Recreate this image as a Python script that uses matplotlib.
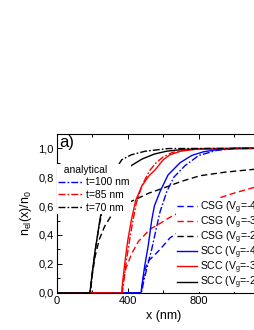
import numpy as np
import matplotlib
matplotlib.use("Agg")
import matplotlib.pyplot as plt
from matplotlib.ticker import MultipleLocator, FuncFormatter

plt.rcParams['font.family'] = ['Liberation Sans', 'DejaVu Sans']
plt.rcParams['mathtext.default'] = 'regular'

# SCC (solid)
scc_black_x = [0, 185, 190, 200, 215, 230, 245, 260, 290, 330, 380, 420, 480, 550, 620, 700, 800, 1200]
scc_black_y = [0, 0, 0.03, 0.14, 0.28, 0.40, 0.52, 0.60, 0.70, 0.78, 0.84, 0.88, 0.925, 0.96, 0.98, 0.99, 0.997, 1.0]
scc_red_x = [0, 366, 372, 385, 400, 420, 445, 480, 520, 554, 600, 638, 700, 800, 1200]
scc_red_y = [0, 0, 0.08, 0.22, 0.36, 0.50, 0.64, 0.74, 0.81, 0.85, 0.92, 0.955, 0.98, 0.995, 1.0]
scc_blue_x = [0, 475, 480, 495, 516, 535, 550, 582, 627, 695, 760, 825, 900, 1000, 1200]
scc_blue_y = [0, 0, 0.05, 0.18, 0.33, 0.50, 0.60, 0.70, 0.815, 0.90, 0.95, 0.975, 0.99, 1.0, 1.0]

# CSG (dashed)
csg_black_x = [0, 188, 200, 216, 240, 270, 318, 380, 451, 520, 591, 700, 807, 950, 1117, 1200]
csg_black_y = [0, 0, 0.12, 0.25, 0.37, 0.46, 0.555, 0.61, 0.65, 0.69, 0.72, 0.77, 0.81, 0.835, 0.855, 0.865]
csg_red_x = [0, 366, 375, 390, 422, 460, 526, 582, 648, 700, 800, 900, 1000, 1100, 1200]
csg_red_y = [0, 0, 0.08, 0.17, 0.27, 0.355, 0.44, 0.48, 0.53, 0.56, 0.61, 0.65, 0.69, 0.725, 0.76]
csg_blue_x = [0, 475, 488, 500, 516, 550, 582, 638, 700, 800, 900, 1000, 1100, 1200]
csg_blue_y = [0, 0, 0.10, 0.17, 0.22, 0.26, 0.30, 0.38, 0.43, 0.49, 0.54, 0.58, 0.61, 0.64]

# analytical (dash-dot)
an70_x = [0, 190, 200, 220, 240, 262, 290, 330, 366, 420, 500, 627, 1200]
an70_y = [0, 0, 0.13, 0.32, 0.47, 0.60, 0.72, 0.85, 0.92, 0.955, 0.98, 0.998, 1.0]
an85_x = [0, 370, 378, 392, 410, 428, 448, 480, 520, 560, 600, 650, 700, 800, 1200]
an85_y = [0, 0, 0.08, 0.22, 0.36, 0.49, 0.62, 0.74, 0.84, 0.90, 0.94, 0.97, 0.985, 0.997, 1.0]
an100_x = [0, 478, 490, 510, 535, 560, 582, 620, 660, 723, 800, 900, 1000, 1200]
an100_y = [0, 0, 0.08, 0.18, 0.30, 0.44, 0.56, 0.70, 0.80, 0.88, 0.95, 0.985, 0.998, 1.0]

fig = plt.figure(figsize=(2.55, 3.3), dpi=100)
ax = fig.add_axes([0.2224, 0.1127, 0.8353, 0.4818])

lw = 1.0
dash = (4.5, 2.5)
dashdot = (5, 1.5, 1.2, 1.5)

csg_handles = []
csg_handles += ax.plot(csg_blue_x, csg_blue_y, color='#0000ff', lw=lw, dashes=dash, label='CSG (V$_g$=-4.0 V)')
csg_handles += ax.plot(csg_red_x, csg_red_y, color='#ff0000', lw=lw, dashes=dash, label='CSG (V$_g$=-3.0 V)')
csg_handles += ax.plot(csg_black_x, csg_black_y, color='black', lw=lw, dashes=dash, label='CSG (V$_g$=-2.0 V)')
scc_handles = []
scc_handles += ax.plot(scc_blue_x, scc_blue_y, color='#0000ff', lw=lw, label='SCC (V$_g$=-4.0 V)')
scc_handles += ax.plot(scc_red_x, scc_red_y, color='#ff0000', lw=lw, label='SCC (V$_g$=-3.0 V)')
scc_handles += ax.plot(scc_black_x, scc_black_y, color='black', lw=lw, label='SCC (V$_g$=-2.0 V)')
an_handles = []
an_handles += ax.plot(an100_x, an100_y, color='#0000ff', lw=lw, dashes=dashdot, label='t=100 nm')
an_handles += ax.plot(an85_x, an85_y, color='#ff0000', lw=lw, dashes=dashdot, label='t=85 nm')
an_handles += ax.plot(an70_x, an70_y, color='black', lw=lw, dashes=dashdot, label='t=70 nm')

ax.set_xlim(0, 1200)
ax.set_ylim(0, 1.1)
ax.xaxis.set_major_locator(MultipleLocator(400))
ax.xaxis.set_minor_locator(MultipleLocator(200))
ax.yaxis.set_major_locator(MultipleLocator(0.2))
ax.yaxis.set_minor_locator(MultipleLocator(0.1))
ax.yaxis.set_major_formatter(FuncFormatter(lambda v, p: f"{v:.1f}".replace('.', ',')))
ax.tick_params(which='both', direction='in', top=True, right=True, labelsize=8, width=0.7)
ax.tick_params(which='major', length=3.5, pad=2)
ax.tick_params(which='minor', length=2)
for s in ax.spines.values():
    s.set_linewidth(0.8)

ax.set_xlabel('x (nm)', fontsize=9, labelpad=3)
ax.set_ylabel('n$_{el}$(x)/n$_0$', fontsize=9, labelpad=3)

ax.text(0.012, 0.995, 'a)', transform=ax.transAxes, fontsize=12, va='top', ha='left')

leg1 = ax.legend(handles=an_handles, title='  analytical', loc='upper left',
                 bbox_to_anchor=(0.0, 0.813), borderaxespad=0, fontsize=7.5, title_fontsize=7.5,
                 handlelength=2.3, handletextpad=0.45, labelspacing=0.26, borderpad=0.1,
                 frameon=True, fancybox=False, edgecolor='none', facecolor='white', framealpha=1)
leg1._legend_box.align = 'left'
ax.add_artist(leg1)
ax.legend(handles=csg_handles + scc_handles, loc='lower left', bbox_to_anchor=(0.56, 0.005),
          borderaxespad=0, fontsize=7.5, handlelength=1.9, handletextpad=0.3, labelspacing=-0.13,
          borderpad=0.1, frameon=True, fancybox=False, edgecolor='none', facecolor='white', framealpha=1)

fig.savefig('out.png', dpi=100)
